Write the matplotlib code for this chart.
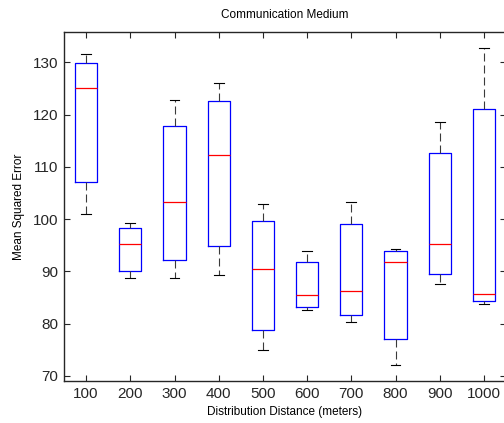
import matplotlib
matplotlib.use("Agg")
import matplotlib.pyplot as plt

plt.rcParams["font.family"] = ["Liberation Sans", "DejaVu Sans"]

distances = ["100", "200", "300", "400", "500", "600", "700", "800", "900", "1000"]
whisker_low = [101.0, 88.7, 88.7, 89.2, 74.9, 82.5, 80.2, 72.1, 87.6, 83.7]
q1 = [107.0, 90.1, 92.2, 94.9, 78.8, 83.2, 81.7, 77.0, 89.5, 84.3]
medians = [125.0, 95.2, 103.2, 112.2, 90.5, 85.4, 86.2, 91.8, 95.2, 85.7]
q3 = [129.9, 98.3, 117.8, 122.5, 99.6, 91.7, 99.0, 93.8, 112.7, 121.1]
whisker_high = [131.5, 99.3, 122.7, 126.0, 102.9, 93.8, 103.3, 94.3, 118.5, 132.8]

stats = []
for i, lab in enumerate(distances):
    stats.append({
        "label": lab,
        "whislo": whisker_low[i],
        "q1": q1[i],
        "med": medians[i],
        "q3": q3[i],
        "whishi": whisker_high[i],
        "fliers": [],
    })

W, H = 504, 423
fig = plt.figure(figsize=(W / 100, H / 100), dpi=100)
ax = fig.add_axes([64 / W, (H - 381) / H, (506 - 64) / W, (381 - 32) / H])

ax.bxp(
    stats,
    positions=range(1, len(stats) + 1),
    widths=0.5,
    capwidths=0.22,
    showfliers=False,
    boxprops=dict(color="#0000FF", linewidth=0.9),
    medianprops=dict(color="#FF0000", linewidth=0.9),
    whiskerprops=dict(color="#3a3a3a", linewidth=0.8, linestyle=(0, (7.2, 3.6))),
    capprops=dict(color="black", linewidth=0.8),
)

ax.set_xlim(0.5, len(stats) + 0.5)
ax.set_ylim(69.0, 135.8)
ax.set_yticks([70, 80, 90, 100, 110, 120, 130])
ax.set_xticks(range(1, len(stats) + 1))
ax.set_xticklabels(distances)
ax.tick_params(direction="in", top=True, right=True, length=4, width=0.8,
               labelsize=11, pad=4, colors="#262626")
for sp in ax.spines.values():
    sp.set_linewidth(1.0)
    sp.set_color("#262626")

ax.set_title("Communication Medium", fontsize=8.5, pad=10)
ax.set_xlabel("Distribution Distance (meters)", fontsize=8.5, labelpad=4)
ax.set_ylabel("Mean Squared Error", fontsize=8.5, labelpad=6)

fig.savefig("out.png", dpi=100)
